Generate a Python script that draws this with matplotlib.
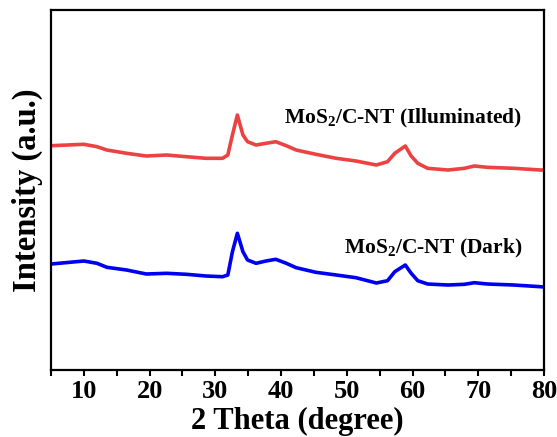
import matplotlib
matplotlib.use('Agg')
import matplotlib.pyplot as plt
from matplotlib.ticker import MultipleLocator

plt.rcParams['font.family'] = 'Liberation Serif'
plt.rcParams['font.weight'] = 'bold'
plt.rcParams['mathtext.fontset'] = 'custom'
plt.rcParams['mathtext.rm'] = 'Liberation Serif:bold'
plt.rcParams['mathtext.bf'] = 'Liberation Serif:bold'

# 2theta positions (degree) read along the patterns
two_theta = [5, 10, 12, 13.5, 16.5, 19.5, 22.6, 25.6, 28.6, 31.1, 31.9, 32.6,
             33.35, 34.2, 34.9, 36.2, 37.7, 39.2, 40.8, 42.3, 45.3, 48.4,
             51.4, 54.5, 56.2, 57.3, 58.9, 59.8, 60.8, 62.3, 65.4, 67.9,
             69.4, 71.4, 75.4, 79.5, 80]

# intensities (a.u., curves stacked with an offset)
illuminated = [224.3, 225.7, 223.3, 220, 216.7, 214, 215, 213.3, 211.7, 211.7,
               215, 235, 255, 235, 228.3, 225, 226.7, 228.3, 224.3, 220, 215.7,
               211.7, 209, 205, 208.3, 216.7, 224, 214, 206.7, 201.7, 200,
               201.7, 204, 202.7, 201.7, 200, 200]
dark = [106, 109, 106.7, 102.7, 100, 96, 96.7, 95.7, 94, 93.3, 95, 118.3,
        136.7, 118.3, 110, 106.7, 109, 110.7, 106.7, 102.3, 97.7, 95, 92.3,
        87, 89.3, 98.3, 105, 96.7, 89.3, 86, 85, 85.7, 87.3, 86, 85, 83.3, 83]

fig = plt.figure(figsize=(5.57, 4.37), dpi=100)
ax = fig.add_axes([0.0916, 0.1533, 0.885, 0.8238])

ax.plot(two_theta, illuminated, color='#EB4242', lw=2.6)
ax.plot(two_theta, dark, color='#0000F0', lw=2.6)

ax.text(58.6, 252, 'MoS$_2$/C-NT (Illuminated)', fontsize=15.5, ha='center', va='center')
ax.text(76.7, 122, 'MoS$_2$/C-NT (Dark)', fontsize=15.5, ha='right', va='center')

ax.set_xlim(5, 80)
ax.set_ylim(0, 360)
ax.xaxis.set_major_locator(MultipleLocator(10))
ax.xaxis.set_minor_locator(MultipleLocator(5))
ax.set_yticks([])
ax.tick_params(axis='x', which='both', direction='out', length=4, width=1.5,
               labelsize=19, pad=3)
for s in ax.spines.values():
    s.set_linewidth(1.6)

ax.set_xlabel('2 Theta (degree)', fontsize=22, fontweight='bold', labelpad=3)
ax.set_ylabel('Intensity (a.u.)', fontsize=23.5, fontweight='bold', labelpad=6)

fig.savefig('out.png', dpi=100)
